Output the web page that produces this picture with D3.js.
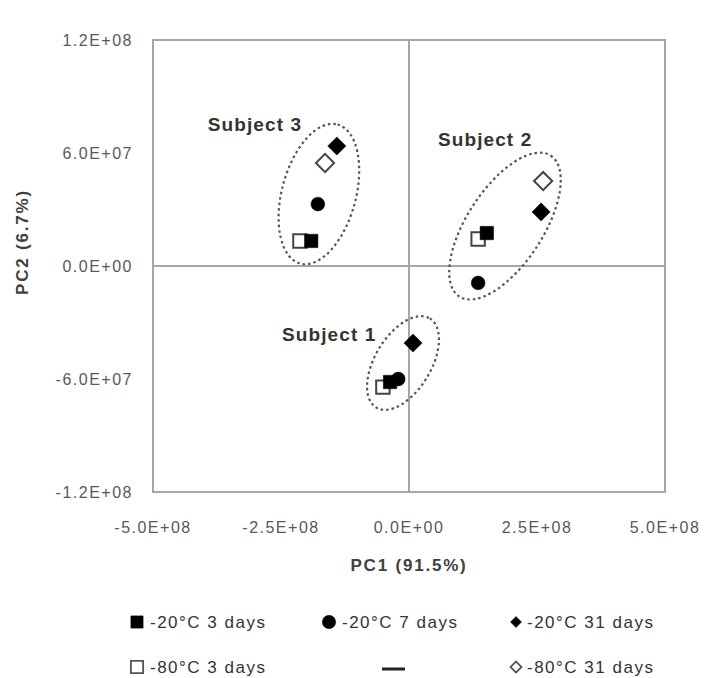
<!DOCTYPE html>
<html>
<head>
<meta charset="utf-8">
<script src="https://cdn.jsdelivr.net/npm/d3@7"></script>
<style>
  body { margin: 0; background: #fff; }
  svg { display: block; }
  text { font-family: "Liberation Sans", Arial, sans-serif; }
</style>
</head>
<body>
<svg id="chart" width="707" height="678"></svg>
<script>
// order: Subject 1, Subject 2, Subject 3
const subjects = ["Subject 1", "Subject 2", "Subject 3"];

const pc1_m20_3d = [-3.7e7, 1.52e8, -1.91e8];
const pc2_m20_3d = [-6.16e7, 1.75e7, 1.33e7];
const pc1_m20_7d = [-2.1e7, 1.35e8, -1.78e8];
const pc2_m20_7d = [-6.0e7, -0.9e7, 3.29e7];
const pc1_m20_31d = [7.8e6, 2.58e8, -1.41e8];
const pc2_m20_31d = [-4.09e7, 2.87e7, 6.37e7];
const pc1_m80_3d = [-5.1e7, 1.35e8, -2.13e8];
const pc2_m80_3d = [-6.43e7, 1.43e7, 1.33e7];
const pc1_m80_31d = [null, 2.62e8, -1.64e8];
const pc2_m80_31d = [null, 4.51e7, 5.47e7];

const xTicks = [-5e8, -2.5e8, 0, 2.5e8, 5e8];
const yTicks = [-1.2e8, -6e7, 0, 6e7, 1.2e8];

// dashed group outlines and their labels (data units)
const ringCx = [-1.17e7, 1.875e8, -1.76e8];
const ringCy = [-5.15e7, 2.12e7, 3.82e7];
const labelX = [-2.48e8, 5.66e7, -3.93e8];
const labelY = [-3.61e7, 6.74e7, 7.54e7];

const svg = d3.select("#chart");
const area = { left: 153, right: 665, top: 40, bottom: 492 };

const x = d3.scaleLinear().domain([-5e8, 5e8]).range([area.left, area.right]);
const y = d3.scaleLinear().domain([-1.2e8, 1.2e8]).range([area.bottom, area.top]);

function sci(d) {
    let [m, e] = d.toExponential(1).split("e");
    return m + "E" + e[0] + e.slice(1).padStart(2, "0");
}

const gridColor = "#a6a6a6";

// frame
svg.append("rect")
    .attr("x", area.left).attr("y", area.top)
    .attr("width", area.right - area.left).attr("height", area.bottom - area.top)
    .attr("fill", "none").attr("stroke", gridColor).attr("stroke-width", 2);

// zero lines
svg.append("line")
    .attr("x1", area.left).attr("x2", area.right)
    .attr("y1", y(0)).attr("y2", y(0))
    .attr("stroke", gridColor).attr("stroke-width", 2);
svg.append("line")
    .attr("x1", x(0)).attr("x2", x(0))
    .attr("y1", area.top).attr("y2", area.bottom)
    .attr("stroke", gridColor).attr("stroke-width", 2);

// tick labels
svg.append("g").selectAll("text")
    .data(xTicks).enter().append("text")
    .attr("x", d => x(d)).attr("y", 533)
    .attr("text-anchor", "middle")
    .attr("font-size", 16).attr("letter-spacing", 1.5).attr("fill", "#595959")
    .text(sci);

svg.append("g").selectAll("text")
    .data(yTicks).enter().append("text")
    .attr("x", 133).attr("y", d => y(d) + 6)
    .attr("text-anchor", "end")
    .attr("font-size", 16).attr("letter-spacing", 1.5).attr("fill", "#595959")
    .text(sci);

// axis titles
svg.append("text")
    .attr("x", x(0)).attr("y", 571)
    .attr("text-anchor", "middle")
    .attr("font-size", 17).attr("letter-spacing", 1.8)
    .attr("font-weight", "bold").attr("fill", "#404040")
    .text("PC1 (91.5%)");

svg.append("text")
    .attr("transform", "translate(28,242) rotate(-90)")
    .attr("text-anchor", "middle")
    .attr("font-size", 17).attr("letter-spacing", 1.8)
    .attr("font-weight", "bold").attr("fill", "#404040")
    .text("PC2 (6.7%)");

// dashed group outlines
const ringRx = [52, 84, 72], ringRy = [28, 38, 37], ringAngle = [-59, -57, -75];
svg.append("g").selectAll("ellipse")
    .data(subjects).enter().append("ellipse")
    .attr("transform", (d, i) => `translate(${x(ringCx[i])},${y(ringCy[i])}) rotate(${ringAngle[i]})`)
    .attr("rx", (d, i) => ringRx[i]).attr("ry", (d, i) => ringRy[i])
    .attr("fill", "none").attr("stroke", "#555")
    .attr("stroke-width", 2.2).attr("stroke-dasharray", "2.5,3");

svg.append("g").selectAll("text")
    .data(subjects).enter().append("text")
    .attr("x", (d, i) => x(labelX[i])).attr("y", (d, i) => y(labelY[i]) + 7)
    .attr("font-size", 19).attr("letter-spacing", 1.1)
    .attr("font-weight", "bold").attr("fill", "#333")
    .text(d => d);

// markers
const sq = d3.symbol().type(d3.symbolSquare).size(180)();
const circ = d3.symbol().type(d3.symbolCircle).size(150)();
const dia = d3.symbol().type(d3.symbolSquare).size(165)();

function drawSeries(xs, ys, shape, rot, filled) {
    const pts = xs.map((v, i) => ({ x: v, y: ys[i] })).filter(d => d.x !== null);
    svg.append("g").selectAll("path")
        .data(pts).enter().append("path")
        .attr("d", shape)
        .attr("transform", d => `translate(${x(d.x)},${y(d.y)}) rotate(${rot})`)
        .attr("fill", filled ? "#000" : "#fff")
        .attr("stroke", filled ? "#000" : "#444")
        .attr("stroke-width", filled ? 0.5 : 2);
}

drawSeries(pc1_m80_3d, pc2_m80_3d, sq, 0, false);
drawSeries(pc1_m20_3d, pc2_m20_3d, sq, 0, true);
drawSeries(pc1_m20_7d, pc2_m20_7d, circ, 0, true);
drawSeries(pc1_m80_31d, pc2_m80_31d, dia, 45, false);
drawSeries(pc1_m20_31d, pc2_m20_31d, dia, 45, true);

// legend
const legendNames = ["-20\u00B0C 3 days", "-20\u00B0C 7 days", "-20\u00B0C 31 days",
                     "-80\u00B0C 3 days", "", "-80\u00B0C 31 days"];
const legendCol = [137, 329, 516];
const legendRow = [622, 667];
const legendShape = [
    d3.symbol().type(d3.symbolSquare).size(150)(),
    d3.symbol().type(d3.symbolCircle).size(140)(),
    d3.symbol().type(d3.symbolSquare).size(60)()
];
const legendFill = [true, true, true, false, null, false];

legendNames.forEach((name, i) => {
    const col = i % 3;
    const cx = legendCol[col], cy = legendRow[Math.floor(i / 3)];
    if (name === "") {
        svg.append("line")
            .attr("x1", cx + 53).attr("x2", cx + 76)
            .attr("y1", cy + 2).attr("y2", cy + 2)
            .attr("stroke", "#222").attr("stroke-width", 3);
        return;
    }
    const filled = legendFill[i];
    svg.append("path")
        .attr("d", legendShape[col])
        .attr("transform", `translate(${cx},${cy}) rotate(${col === 2 ? 45 : 0})`)
        .attr("fill", filled ? "#000" : "#fff")
        .attr("stroke", filled ? "#000" : "#555")
        .attr("stroke-width", filled ? 0.5 : 1.8);
    svg.append("text")
        .attr("x", cx + (col === 2 ? 11 : 13)).attr("y", cy + 6)
        .attr("font-size", 17).attr("letter-spacing", 1.5).attr("fill", "#333")
        .text(name);
});
</script>
</body>
</html>
